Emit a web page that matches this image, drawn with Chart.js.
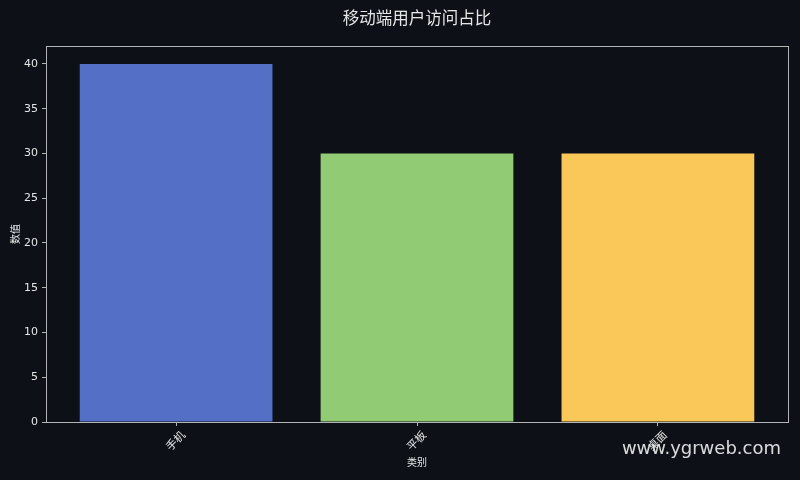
<!DOCTYPE html>
<html><head><meta charset="utf-8">
<script src="https://cdn.jsdelivr.net/npm/chart.js@4.4.1/dist/chart.umd.min.js"></script>
<style>html,body{margin:0;padding:0;background:#0d1017;}#wrap{width:800px;height:480px;}</style>
</head><body><div id="wrap"><canvas id="c" width="800" height="480"></canvas></div>
<script>
const categories = ['手机', '平板', '桌面'];
const values = [40, 30, 30];
const barColors = ['#5470c6', '#91cc75', '#fac858'];
const yTicks = [0, 5, 10, 15, 20, 25, 30, 35, 40];
const titleText = '移动端用户访问占比';
const xTitle = '类别';
const yTitle = '数值';
const watermark = 'www.ygrweb.com';

const FONT = "'Noto Sans CJK SC', 'DejaVu Sans', sans-serif";
const textColor = '#e6e6e6';
const frameColor = '#b4b4b4';

const framePlugin = {
  id: 'frame',
  afterDatasetsDraw(chart) {
    const {ctx, chartArea: a} = chart;
    ctx.save();
    ctx.strokeStyle = frameColor;
    ctx.lineWidth = 1;
    ctx.strokeRect(a.left + 0.5, a.top + 0.5, a.right - a.left, a.bottom - a.top);
    ctx.restore();
  },
  afterDraw(chart) {
    const {ctx, chartArea: a} = chart;
    ctx.save();
    ctx.font = "16.5px " + FONT;
    ctx.fillStyle = textColor;
    ctx.textAlign = 'center';
    ctx.textBaseline = 'middle';
    ctx.fillText(titleText, (a.left + a.right) / 2, 18);
    ctx.font = "18px 'DejaVu Sans', sans-serif";
    ctx.fillStyle = 'rgba(235,235,235,0.92)';
    ctx.textAlign = 'right';
    ctx.fillText(watermark, 781, 449);
    ctx.restore();
  }
};

new Chart(document.getElementById('c'), {
  type: 'bar',
  data: {
    datasets: [{
      data: values.map((v, i) => ({x: i, y: v})),
      backgroundColor: barColors,
      borderWidth: 0,
      categoryPercentage: 1,
      barPercentage: 0.8
    }]
  },
  options: {
    responsive: false,
    animation: false,
    devicePixelRatio: 1,
    layout: {padding: {left: 0, right: 12, top: 46, bottom: 0}},
    plugins: {
      legend: {display: false},
      tooltip: {enabled: false},
      title: {display: false}
    },
    scales: {
      x: {
        type: 'linear', min: -0.54, max: 2.54, offset: false,
        afterBuildTicks(s) { s.ticks = categories.map((c, i) => ({value: i})); },
        afterFit(s) { s.height = 58; },
        ticks: {
          color: textColor, font: {family: FONT, size: 11},
          minRotation: 45, maxRotation: 45, padding: 2, labelOffset: 7,
          callback: (v) => categories[v] ?? ''
        },
        grid: {display: true, offset: false, drawOnChartArea: false, drawTicks: true, tickLength: 4, color: frameColor},
        border: {display: true, color: frameColor},
        title: {display: true, text: xTitle, color: textColor, font: {family: FONT, size: 10}, padding: {top: 0, bottom: 12}}
      },
      y: {
        min: 0, max: 42,
        afterBuildTicks(s) { s.ticks = yTicks.map(v => ({value: v})); },
        afterFit(s) { s.width = 46; },
        ticks: {color: textColor, font: {family: 'DejaVu Sans', size: 11}, padding: 4},
        grid: {display: true, drawOnChartArea: false, drawTicks: true, tickLength: 4, color: frameColor},
        border: {display: true, color: frameColor},
        title: {display: true, text: yTitle, color: textColor, font: {family: FONT, size: 10}, padding: {top: 9, bottom: 0}}
      }
    }
  },
  plugins: [framePlugin]
});
</script></body></html>
